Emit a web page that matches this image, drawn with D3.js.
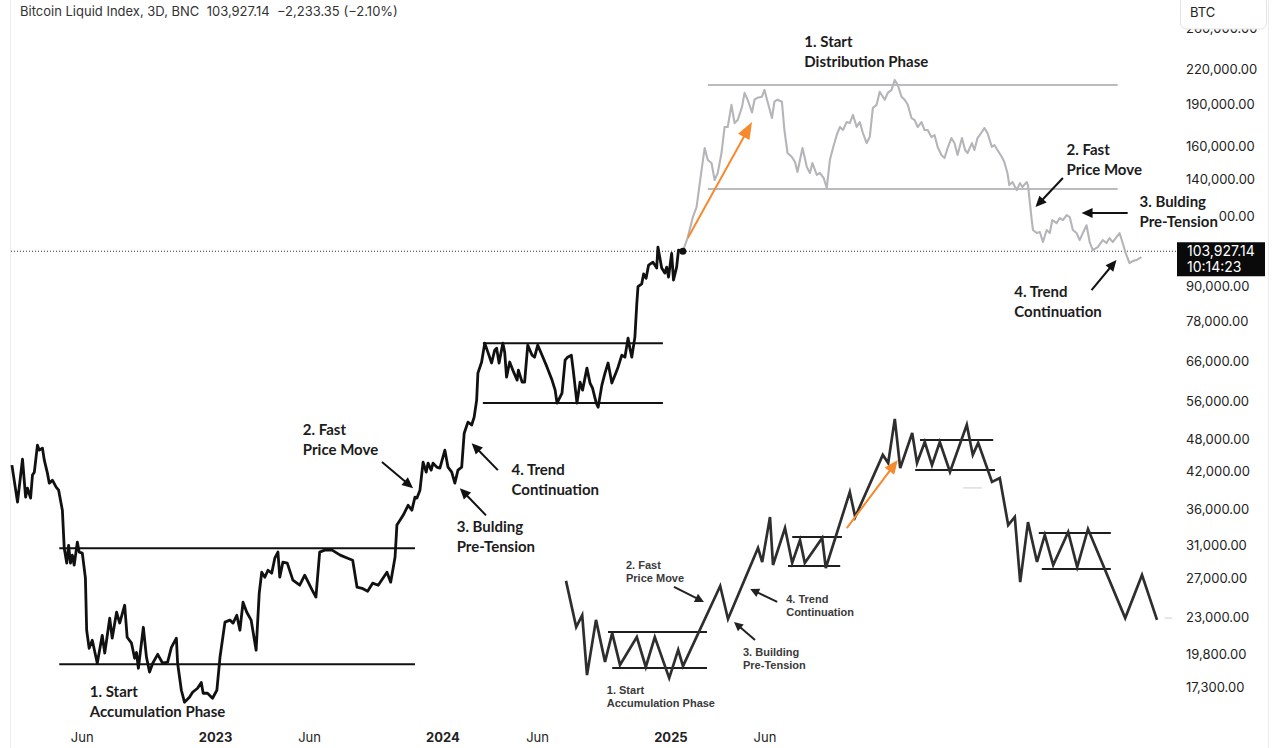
<!DOCTYPE html>
<html><head><meta charset="utf-8">
<script src="https://cdn.jsdelivr.net/npm/d3@7"></script>
<style>
body{margin:0;background:#fff;}
svg{display:block;}
.axis text{font-family:Inter,"Noto Sans",sans-serif;font-size:13px;fill:#222;}
.anno{font-family:Lato,"Open Sans",sans-serif;font-weight:700;font-size:15px;fill:#1c1c1c;}
.ianno{font-family:"Liberation Sans",Arial,sans-serif;font-weight:700;font-size:11px;fill:#3a3a3a;}
</style>
</head><body>
<svg id="chart" width="1280" height="748"></svg>
<script>
// ---------- DATA ----------
const histDates = ["2022-02-09","2022-02-18","2022-02-26","2022-03-03","2022-03-06","2022-03-11","2022-03-14","2022-03-17","2022-03-22","2022-03-25","2022-03-30","2022-04-02","2022-04-07","2022-04-10","2022-04-15","2022-04-21","2022-04-25","2022-04-28","2022-05-01","2022-05-04","2022-05-08","2022-05-11","2022-05-14","2022-05-17","2022-05-20","2022-05-25","2022-05-28","2022-06-02","2022-06-07","2022-06-09","2022-06-13","2022-06-18","2022-06-26","2022-07-04","2022-07-08","2022-07-16","2022-07-20","2022-07-27","2022-08-01","2022-08-09","2022-08-13","2022-08-20","2022-08-25","2022-08-28","2022-08-31","2022-09-08","2022-09-13","2022-09-18","2022-09-23","2022-10-01","2022-10-09","2022-10-17","2022-10-23","2022-10-31","2022-11-02","2022-11-08","2022-11-13","2022-11-21","2022-11-26","2022-12-04","2022-12-10","2022-12-13","2022-12-20","2022-12-28","2023-01-04","2023-01-09","2023-01-17","2023-01-25","2023-01-30","2023-02-05","2023-02-10","2023-02-15","2023-02-21","2023-02-28","2023-03-08","2023-03-13","2023-03-17","2023-03-22","2023-03-27","2023-04-02","2023-04-07","2023-04-12","2023-04-15","2023-04-20","2023-04-27","2023-05-06","2023-05-17","2023-05-25","2023-06-06","2023-06-12","2023-06-18","2023-06-26","2023-07-08","2023-07-21","2023-08-02","2023-08-10","2023-08-17","2023-08-25","2023-09-03","2023-09-11","2023-09-20","2023-10-04","2023-10-10","2023-10-17","2023-10-20","2023-10-30","2023-11-07","2023-11-13","2023-11-18","2023-11-21","2023-11-26","2023-12-01","2023-12-06","2023-12-09","2023-12-14","2023-12-17","2023-12-23","2023-12-28","2024-01-05","2024-01-10","2024-01-16","2024-01-21","2024-01-26","2024-02-01","2024-02-05","2024-02-11","2024-02-17","2024-02-21","2024-02-25","2024-02-27","2024-03-04","2024-03-09","2024-03-14","2024-03-20","2024-03-25","2024-03-28","2024-04-01","2024-04-07","2024-04-10","2024-04-13","2024-04-18","2024-04-23","2024-04-30","2024-05-02","2024-05-08","2024-05-12","2024-05-17","2024-05-24","2024-05-28","2024-06-02","2024-06-09","2024-06-17","2024-06-25","2024-06-30","2024-07-03","2024-07-11","2024-07-16","2024-07-20","2024-07-26","2024-07-29","2024-08-04","2024-08-09","2024-08-13","2024-08-20","2024-08-25","2024-08-29","2024-09-04","2024-09-07","2024-09-13","2024-09-18","2024-09-23","2024-09-29","2024-10-04","2024-10-09","2024-10-15","2024-10-20","2024-10-25","2024-10-28","2024-10-31","2024-11-05","2024-11-08","2024-11-10","2024-11-16","2024-11-19","2024-11-23","2024-11-27","2024-12-04","2024-12-10","2024-12-12","2024-12-18","2024-12-23","2024-12-26","2024-12-29","2025-01-03","2025-01-06","2025-01-11","2025-01-14","2025-01-21"];
const histPrices = [43100,37020,44180,37780,39210,37630,41370,41880,46800,45850,46230,44000,41710,40020,40520,39370,38890,37320,35810,30620,28800,30980,28800,29760,28560,31400,30140,30020,27070,21850,20290,20970,19080,21400,19890,22960,21150,23530,22510,24220,21230,20720,19470,19940,18690,22120,19550,18390,19080,19790,19080,19160,20370,21150,19080,17070,16250,16580,16930,17210,17630,16860,16860,16520,17070,19550,22590,22780,22500,23240,21850,24520,23530,22780,20130,25450,27740,27180,27970,27630,29390,30140,27180,28920,28800,26850,26300,27400,25770,25040,30140,30380,30380,29760,29390,29150,26080,25970,25660,26520,26300,27740,26630,29510,33680,35060,36540,35810,37780,37630,38890,43650,41880,43470,42230,43470,42750,42580,45850,42750,41880,40020,42230,42750,49160,51460,50840,52520,56330,62950,65880,71210,68620,65620,69200,69760,65620,71210,68620,61900,65880,63730,61160,63730,60670,60670,70630,67760,67210,70630,67760,64510,61160,58690,55640,57990,66410,67210,67760,63730,55640,60670,58690,64250,60420,59170,55640,54720,59910,62950,65620,60420,62420,64510,67760,67210,72700,69760,67210,73000,83580,89820,90890,94660,93030,98180,99380,96970,105740,96970,95000,97370,93420,102980,92320,97370,104440,103927.14];

const projDates = ["2025-01-21","2025-01-29","2025-02-06","2025-02-12","2025-02-20","2025-02-25","2025-03-02","2025-03-08","2025-03-13","2025-03-18","2025-03-24","2025-03-29","2025-04-03","2025-04-09","2025-04-14","2025-04-19","2025-04-26","2025-04-30","2025-05-05","2025-05-12","2025-05-16","2025-05-21","2025-05-28","2025-06-01","2025-06-06","2025-06-13","2025-06-17","2025-06-22","2025-06-29","2025-07-03","2025-07-08","2025-07-15","2025-07-20","2025-07-24","2025-08-01","2025-08-08","2025-08-13","2025-08-17","2025-08-24","2025-08-29","2025-09-04","2025-09-09","2025-09-14","2025-09-19","2025-09-25","2025-09-30","2025-10-05","2025-10-11","2025-10-16","2025-10-21","2025-10-27","2025-11-01","2025-11-06","2025-11-12","2025-11-17","2025-11-22","2025-11-28","2025-12-03","2025-12-11","2025-12-16","2025-12-22","2025-12-27","2026-01-01","2026-01-07","2026-01-12","2026-01-17","2026-01-23","2026-01-28","2026-02-02","2026-02-08","2026-02-13","2026-02-18","2026-02-24","2026-03-01","2026-03-06","2026-03-12","2026-03-17","2026-03-22","2026-03-28","2026-04-02","2026-04-07","2026-04-14","2026-04-19","2026-04-23","2026-04-30","2026-05-04","2026-05-09","2026-05-16","2026-05-20","2026-05-25","2026-06-01","2026-06-05","2026-06-10","2026-06-17","2026-06-21","2026-06-26","2026-06-29","2026-07-04","2026-07-11","2026-07-16","2026-07-20","2026-07-27","2026-07-29","2026-08-04","2026-08-06","2026-08-12","2026-08-17","2026-08-22","2026-08-28","2026-09-02","2026-09-06","2026-09-13","2026-09-18","2026-09-23","2026-09-29","2026-10-04","2026-10-09","2026-10-15","2026-10-20","2026-10-25","2026-10-31","2026-11-05","2026-11-10","2026-11-18","2026-11-26","2026-12-02","2026-12-07","2026-12-12","2026-12-18","2026-12-23","2026-12-28","2027-01-02","2027-01-08","2027-01-13","2027-01-19","2027-01-27"];
const projPrices = [103927.14,110180,119560,124650,145160,158930,151280,149400,139330,143420,155700,173250,173250,189850,176110,178340,188280,199440,193870,183930,193870,195470,196280,201850,192270,179800,192270,193870,192270,171160,155700,153160,150030,144020,158930,146960,143420,149400,142240,143420,140460,134800,151280,158930,167680,173250,171160,176850,176110,182160,173250,176850,169070,162210,166230,187510,189850,200290,193870,199440,201850,210300,205970,196280,193870,189850,179800,178340,173250,176850,171160,171160,166230,167680,159580,154430,152530,158930,165550,162210,154430,165550,157630,155700,162210,157630,165550,169770,172570,169070,159580,160900,157630,153160,150030,143420,136460,138160,133700,137590,135350,138160,136460,118180,113410,112010,112470,107950,113410,112010,118180,116720,119150,118180,120590,119600,113410,112010,108830,112010,115670,107950,104440,105740,108830,107500,109730,107950,110180,112010,107500,103000,98970,99790,100220,101460];

const lastPrice = 103927.14;
const yTickValues = [260000,220000,190000,160000,140000,120000,90000,78000,66000,56000,48000,42000,36000,31000,27000,23000,19800,17300];
const xTickDates = ["2022-06-01","2023-01-01","2023-06-01","2024-01-01","2024-06-01","2025-01-01","2025-06-01"];
const xTickLabels = ["Jun","2023","Jun","2024","Jun","2025","Jun"];

// horizontal range lines: [fromDate, toDate, price, kind]
const rangeLines = [
  ["2022-04-26","2023-11-18",30620,"hist"],
  ["2022-04-26","2023-11-18",19000,"hist"],
  ["2024-03-06","2024-12-20",71210,"hist"],
  ["2024-03-06","2024-12-20",55640,"hist"],
  ["2025-03-02","2026-12-20",205970,"proj"],
  ["2025-03-02","2026-12-20",134250,"proj"]
];
// arrows: [fromDate, fromPrice, toDate, toPrice, kind]
const arrows = [
  ["2023-09-26",43650,"2023-11-15",39210,"black"],
  ["2024-03-11",35060,"2024-01-29",39210,"black"],
  ["2024-03-30",42230,"2024-02-17",47180,"black"],
  ["2025-01-29",109730,"2025-05-12",176850,"orange"],
  ["2026-09-23",140460,"2026-08-10",124650,"black"],
  ["2027-01-05",121650,"2026-10-23",121650,"black"],
  ["2026-11-08",88600,"2026-12-18",100220,"black"]
];
// annotations: anchor date / price of first baseline, lines
const annoDates  = ["2022-06-14","2023-05-22","2024-01-24","2024-04-21","2025-08-04","2026-09-29","2027-01-24","2026-07-07"];
const annoPrices = [16590,48770,32720,41370,240860,154400,124650,86060];
const annoLines  = [["1. Start","Accumulation Phase"],["2. Fast","Price Move"],["3. Bulding","Pre-Tension"],["4. Trend","Continuation"],["1. Start","Distribution Phase"],["2. Fast","Price Move"],["3. Bulding","Pre-Tension"],["4. Trend","Continuation"]];
const annoBoxed  = [false,false,false,false,false,false,true,false];

// inset schematic (its own 0-100 units)
const insetX = [1.0,2.7,3.7,4.5,6.0,7.5,8.7,10.0,12.8,14.3,15.8,18.2,19.7,20.5,26.7,28.0,33.0,33.7,35.0,35.5,37.5,38.7,40.0,40.8,43.7,44.3,48.3,49.2,53.8,54.7,55.8,56.7,58.7,59.5,60.8,62.0,63.3,65.0,67.8,68.8,69.7,72.0,73.3,74.7,75.8,76.7,78.0,79.5,80.8,82.2,84.7,86.2,88.0,94.2,97.0,99.5];
const insetY = [39.7,24.3,28.3,8.3,26.7,12.7,22.3,11.7,21.0,11.0,21.0,7.3,16.7,11.3,38.0,27.0,50.7,46.0,61.0,45.0,57.3,45.7,53.3,45.7,54.0,44.0,69.3,61.0,81.7,79.0,93.7,77.3,89.0,79.0,86.0,78.3,86.0,76.0,91.7,81.7,85.7,72.7,74.0,58.3,61.0,39.3,59.3,46.0,55.0,45.0,56.0,44.3,57.0,27.3,41.7,26.7];
// inset range segments [x1, x2, level]
const insetRanges = [[8.0,24.5,22.7],[8.7,24.5,10.7],[38.7,47.0,54.3],[38.0,46.7,44.7],[60.0,72.2,86.7],[59.2,72.5,76.7],[79.8,91.8,55.7],[80.3,91.8,43.7]];
const insetArrows = [[19.0,37.7,24.0,32.7,"black"],[32.5,20.0,29.0,26.0,"black"],[36.2,32.7,31.7,37.0,"black"],[47.8,57.3,56.3,80.0,"orange"]];
const insetLabelX = [11.0,30.5,37.7,7.8];
const insetLabelY = [43.7,14.7,32.3,2.0];
const insetLabels = [["2. Fast","Price Move"],["3. Building","Pre-Tension"],["4. Trend","Continuation"],["1. Start","Accumulation Phase"]];

// ---------- SCALES ----------
const parse = d3.utcParse("%Y-%m-%d");
const x = d3.scaleUtc().domain([parse("2023-01-01"), parse("2025-01-01")]).range([215, 670.4]);
const y = d3.scaleLog().domain([17300, 220000]).range([687, 69]);
const ix = d3.scaleLinear().domain([0,100]).range([560,1160]);
const iy = d3.scaleLinear().domain([0,100]).range([700,400]);

const svg = d3.select("#chart");
svg.append("rect").attr("width",1280).attr("height",748).attr("fill","#fff");
// frame
svg.append("line").attr("x1",10.5).attr("x2",10.5).attr("y1",0).attr("y2",748).attr("stroke","#ececec");
svg.append("line").attr("x1",1268.5).attr("x2",1268.5).attr("y1",0).attr("y2",748).attr("stroke","#ececec");

const COL = {black:"#111", orange:"#f58a2e", gray:"#b5b5b9"};

function arrowHead(g, x1, y1, x2, y2, color, width, len, half){
  const a = Math.atan2(y2-y1, x2-x1);
  const bx = x2 - Math.cos(a)*len, by = y2 - Math.sin(a)*len;
  g.append("line").attr("x1",x1).attr("y1",y1)
    .attr("x2",x2 - Math.cos(a)*len*0.7).attr("y2",y2 - Math.sin(a)*len*0.7)
    .attr("stroke",color).attr("stroke-width",width);
  const p = [[x2,y2],[bx - Math.sin(a)*half, by + Math.cos(a)*half],[bx + Math.sin(a)*half, by - Math.cos(a)*half]];
  g.append("path").attr("d","M"+p.map(q=>q.join(",")).join("L")+"Z").attr("fill",color);
}

// ---------- INSET SCHEMATIC ----------
const gi = svg.append("g");
gi.append("line").attr("x1",ix(67.2)).attr("x2",ix(70.3)).attr("y1",iy(70.7)).attr("y2",iy(70.7)).attr("stroke","#ddd").attr("stroke-width",1.5);
gi.append("line").attr("x1",ix(100.8)).attr("x2",ix(102)).attr("y1",iy(27.3)).attr("y2",iy(27.3)).attr("stroke","#ddd").attr("stroke-width",1.5);
gi.selectAll("line.ir").data(insetRanges).join("line").attr("class","ir")
  .attr("x1",d=>ix(d[0])).attr("x2",d=>ix(d[1])).attr("y1",d=>iy(d[2])).attr("y2",d=>iy(d[2]))
  .attr("stroke","#1e1e1e").attr("stroke-width",2);
gi.append("path").datum(insetX.map((v,i)=>[v,insetY[i]]))
  .attr("d", d3.line().x(d=>ix(d[0])).y(d=>iy(d[1])))
  .attr("fill","none").attr("stroke","#2e2e2e").attr("stroke-width",2.7).attr("stroke-linejoin","miter");
insetArrows.forEach(a=>{
  if(a[4]==="orange") arrowHead(gi, ix(a[0]),iy(a[1]),ix(a[2]),iy(a[3]), COL.orange, 2, 14, 6);
  else arrowHead(gi, ix(a[0]),iy(a[1]),ix(a[2]),iy(a[3]), "#222", 2, 9, 4.5);
});
insetLabels.forEach((ls,i)=>{
  const t = gi.append("text").attr("class","ianno").attr("x",ix(insetLabelX[i])).attr("y",iy(insetLabelY[i]));
  ls.forEach((s,j)=>t.append("tspan").attr("x",ix(insetLabelX[i])).attr("dy", j?13:0).text(s));
});

// ---------- MAIN CHART ----------
const g = svg.append("g");
// dotted last price line
g.append("line").attr("x1",11).attr("x2",1177).attr("y1",y(lastPrice)).attr("y2",y(lastPrice))
  .attr("stroke","#333").attr("stroke-width",1).attr("stroke-dasharray","1,2");
// range lines
g.selectAll("line.rl").data(rangeLines).join("line").attr("class","rl")
  .attr("x1",d=>x(parse(d[0]))).attr("x2",d=>x(parse(d[1])))
  .attr("y1",d=>y(d[2])).attr("y2",d=>y(d[2]))
  .attr("stroke",d=>d[3]==="hist"?"#111":"#bbbbbf").attr("stroke-width",2);

const line = d3.line().x(d=>x(d[0])).y(d=>y(d[1]));
g.append("path").datum(projDates.map((d,i)=>[parse(d),projPrices[i]]))
  .attr("d",line).attr("fill","none").attr("stroke",COL.gray).attr("stroke-width",2.1).attr("stroke-linejoin","round");
g.append("path").datum(histDates.map((d,i)=>[parse(d),histPrices[i]]))
  .attr("d",line).attr("fill","none").attr("stroke",COL.black).attr("stroke-width",2.8).attr("stroke-linejoin","round");
g.append("circle").attr("cx",x(parse(histDates[histDates.length-1]))).attr("cy",y(lastPrice)).attr("r",3.5).attr("fill","#111");

arrows.forEach(a=>{
  const x1=x(parse(a[0])), y1=y(a[1]), x2=x(parse(a[2])), y2=y(a[3]);
  if(a[4]==="orange") arrowHead(g,x1,y1,x2,y2,COL.orange,2,17,6.5);
  else arrowHead(g,x1,y1,x2,y2,"#111",2,11,5);
});

// ---------- AXES ----------
const yAxis = d3.axisRight(y).tickValues(yTickValues).tickFormat(d3.format(",.2f")).tickSize(0).tickPadding(0);
const gy = svg.append("g").attr("class","axis").attr("transform","translate(1186,0)").call(yAxis);
gy.select(".domain").remove();

const xAxis = d3.axisBottom(x).tickValues(xTickDates.map(parse)).tickFormat((d,i)=>xTickLabels[i]).tickSize(0).tickPadding(0);
const gx = svg.append("g").attr("class","axis").attr("transform","translate(0,733)").call(xAxis);
gx.select(".domain").remove();
gx.selectAll("text").attr("font-weight",(d,i)=>/^\d+$/.test(xTickLabels[i])?700:400);

// annotations
annoLines.forEach((ls,i)=>{
  const ax = x(parse(annoDates[i])), ay = y(annoPrices[i]);
  const tg = svg.append("g");
  const t = tg.append("text").attr("class","anno").attr("x",ax).attr("y",ay);
  ls.forEach((s,j)=>t.append("tspan").attr("x",ax).attr("dy",j?20:0).text(s));
  if(annoBoxed[i]){
    const b = t.node().getBBox();
    tg.insert("rect","text").attr("x",b.x-2).attr("y",b.y).attr("width",b.width+3).attr("height",b.height).attr("fill","#fff");
  }
});

// BTC box (covers most of the topmost price label, as in the reference)
svg.append("rect").attr("x",1180.5).attr("y",-4).attr("width",86).attr("height",33).attr("rx",6)
  .attr("fill","#fff").attr("stroke","#e3e3e3");
svg.append("text").attr("x",1190).attr("y",16.5).attr("font-family","Inter,sans-serif").attr("font-size",13).attr("fill","#222").text("BTC");

// last price label
const lp = svg.append("g");
lp.append("rect").attr("x",1177).attr("y",y(lastPrice)-9).attr("width",88).attr("height",34).attr("fill","#0a0a0a");
lp.append("text").attr("x",1187).attr("y",y(lastPrice)+5).attr("font-family","Inter,sans-serif").attr("font-size",14).attr("fill","#fff").text(d3.format(",.2f")(lastPrice));
lp.append("text").attr("x",1187).attr("y",y(lastPrice)+21).attr("font-family","Inter,sans-serif").attr("font-size",14).attr("fill","#fff").text("10:14:23");

// title
svg.append("text").attr("x",20).attr("y",16).attr("font-family","Inter,sans-serif").attr("font-size",13).attr("fill","#333")
  .attr("xml:space","preserve").text("Bitcoin Liquid Index, 3D, BNC  103,927.14  \u22122,233.35 (\u22122.10%)");
</script>
</body></html>
